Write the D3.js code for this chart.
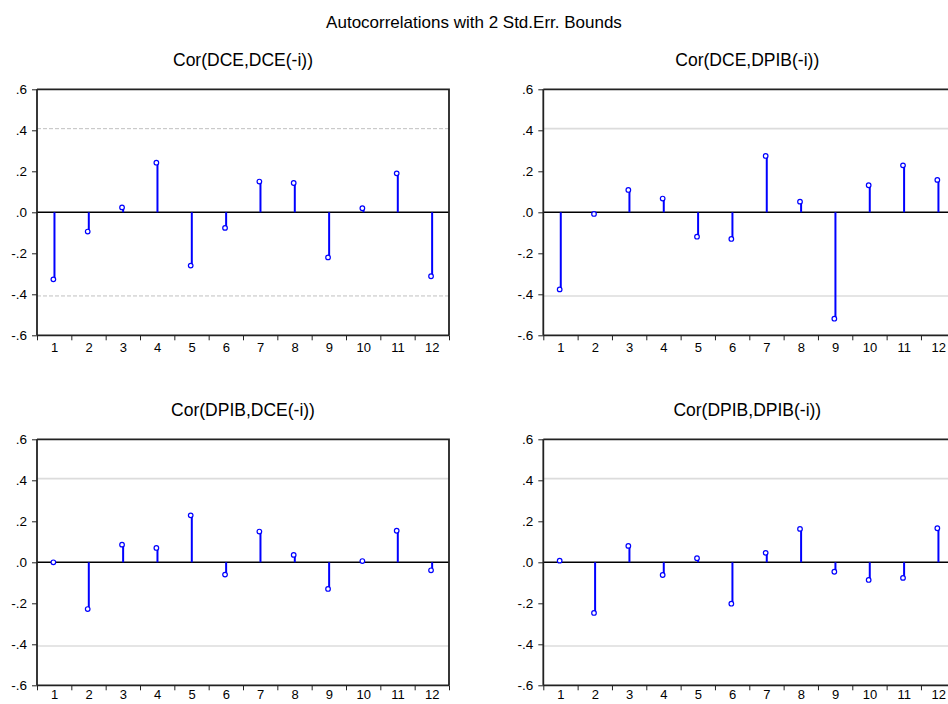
<!DOCTYPE html>
<html>
<head>
<meta charset="utf-8">
<script src="https://cdn.jsdelivr.net/npm/d3@7"></script>
<style>
  html, body { margin: 0; padding: 0; background: #fff; }
  svg { display: block; font-family: "Liberation Sans", Arial, sans-serif; }
</style>
</head>
<body>
<svg id="chart" width="948" height="704"></svg>
<script>
// ---- Data ----
const lags = [1, 2, 3, 4, 5, 6, 7, 8, 9, 10, 11, 12];
const panelTitles = ["Cor(DCE,DCE(-i))", "Cor(DCE,DPIB(-i))", "Cor(DPIB,DCE(-i))", "Cor(DPIB,DPIB(-i))"];
const corDCE_DCE   = [-0.327, -0.094, 0.024, 0.242, -0.260, -0.076, 0.150, 0.143, -0.220, 0.020, 0.190, -0.312];
const corDCE_DPIB  = [-0.376, -0.008, 0.109, 0.067, -0.119, -0.130, 0.275, 0.052, -0.519, 0.132, 0.229, 0.158];
const corDPIB_DCE  = [0.000, -0.228, 0.086, 0.070, 0.229, -0.060, 0.150, 0.036, -0.130, 0.006, 0.154, -0.039];
const corDPIB_DPIB = [0.008, -0.247, 0.080, -0.062, 0.020, -0.202, 0.046, 0.163, -0.046, -0.086, -0.076, 0.166];
const seBound = 0.408;   // 2 std. err. bound
const yTicks = [-0.6, -0.4, -0.2, 0.0, 0.2, 0.4, 0.6];
const yTickLabels = ["-.6", "-.4", "-.2", ".0", ".2", ".4", ".6"];
const mainTitle = "Autocorrelations with 2 Std.Err. Bounds";

const series = [corDCE_DCE, corDCE_DPIB, corDPIB_DCE, corDPIB_DPIB];

// ---- Layout ----
const svg = d3.select("#chart");
const panelW = 412, panelH = 246;
const lefts = [37, 543.3];
const tops = [89.3, 439.3];
const xLabelPad = [7, 4.5];

svg.append("text")
  .attr("x", 474).attr("y", 28)
  .attr("text-anchor", "middle")
  .attr("font-size", 17)
  .attr("fill", "#000")
  .text(mainTitle);

series.forEach((vals, i) => {
  const col = i % 2, row = Math.floor(i / 2);
  const x0 = lefts[col], y0 = tops[row];
  const x = d3.scaleLinear().domain([0.5, 12.5]).range([x0, x0 + panelW]);
  const y = d3.scaleLinear().domain([-0.6, 0.6]).range([y0 + panelH, y0]);
  const g = svg.append("g");

  // subtitle
  g.append("text")
    .attr("x", x0 + panelW / 2 - (col === 1 ? 2 : 0)).attr("y", y0 - 23)
    .attr("text-anchor", "middle")
    .attr("font-size", 17.5)
    .text(panelTitles[i]);

  // bounds
  [seBound, -seBound].forEach(b => {
    g.append("line")
      .attr("x1", x0).attr("x2", x0 + panelW)
      .attr("y1", y(b)).attr("y2", y(b))
      .attr("stroke", i === 0 ? "#c0c0c0" : "#dcdcdc")
      .attr("stroke-width", i === 0 ? 1 : 1.6)
      .attr("stroke-dasharray", i === 0 ? "4,2" : null);
  });

  // zero line
  g.append("line")
    .attr("x1", x0).attr("x2", x0 + panelW)
    .attr("y1", y(0)).attr("y2", y(0))
    .attr("stroke", "#000").attr("stroke-width", 1.5);

  // stems
  g.selectAll("line.stem").data(vals).enter().append("line")
    .attr("class", "stem")
    .attr("x1", (d, j) => x(lags[j]) + 0.3).attr("x2", (d, j) => x(lags[j]) + 0.3)
    .attr("y1", y(0)).attr("y2", d => y(d))
    .attr("stroke", "#0000ff").attr("stroke-width", 2);

  // circles
  g.selectAll("circle").data(vals).enter().append("circle")
    .attr("cx", (d, j) => x(lags[j]) - 0.8)
    .attr("cy", d => y(d))
    .attr("r", 2.3)
    .attr("fill", "#fff")
    .attr("stroke", "#0000ff").attr("stroke-width", 1.2);

  // frame (top & right)
  g.append("path")
    .attr("d", `M${x0},${y0}H${x0 + panelW}V${y0 + panelH}`)
    .attr("fill", "none").attr("stroke", "#222").attr("stroke-width", 1.8);

  // y axis
  const yAxis = d3.axisLeft(y).tickValues(yTicks)
    .tickFormat((d, k) => yTickLabels[k]).tickSize(5).tickPadding(5);
  const ya = g.append("g").attr("transform", `translate(${x0},0)`).call(yAxis);
  ya.select(".domain").attr("stroke", "#222").attr("stroke-width", 1.8).attr("d", `M0,${y0}V${y0 + panelH}`);
  ya.selectAll(".tick line").attr("stroke", "#222");
  ya.selectAll(".tick text").attr("font-size", 13.5).attr("font-family", "Liberation Sans, Arial, sans-serif").attr("fill", "#000");

  // x axis: ticks at boundaries
  const xb = d3.range(0.5, 13, 1);
  const xAxisTicks = d3.axisBottom(x).tickValues(xb).tickFormat("").tickSize(5);
  const xa = g.append("g").attr("transform", `translate(0,${y0 + panelH})`).call(xAxisTicks);
  xa.select(".domain").attr("stroke", "#222").attr("stroke-width", 1.8).attr("d", `M${x0},0H${x0 + panelW}`);
  xa.selectAll(".tick line").attr("stroke", "#222");

  // x labels at lag centres
  const xAxisLabels = d3.axisBottom(x).tickValues(lags).tickFormat(d3.format("d")).tickSize(0).tickPadding(xLabelPad[row]);
  const xl = g.append("g").attr("transform", `translate(0,${y0 + panelH})`).call(xAxisLabels);
  xl.select(".domain").remove();
  xl.selectAll(".tick text").attr("font-size", 13).attr("font-family", "Liberation Sans, Arial, sans-serif").attr("fill", "#000");
});
</script>
</body>
</html>
